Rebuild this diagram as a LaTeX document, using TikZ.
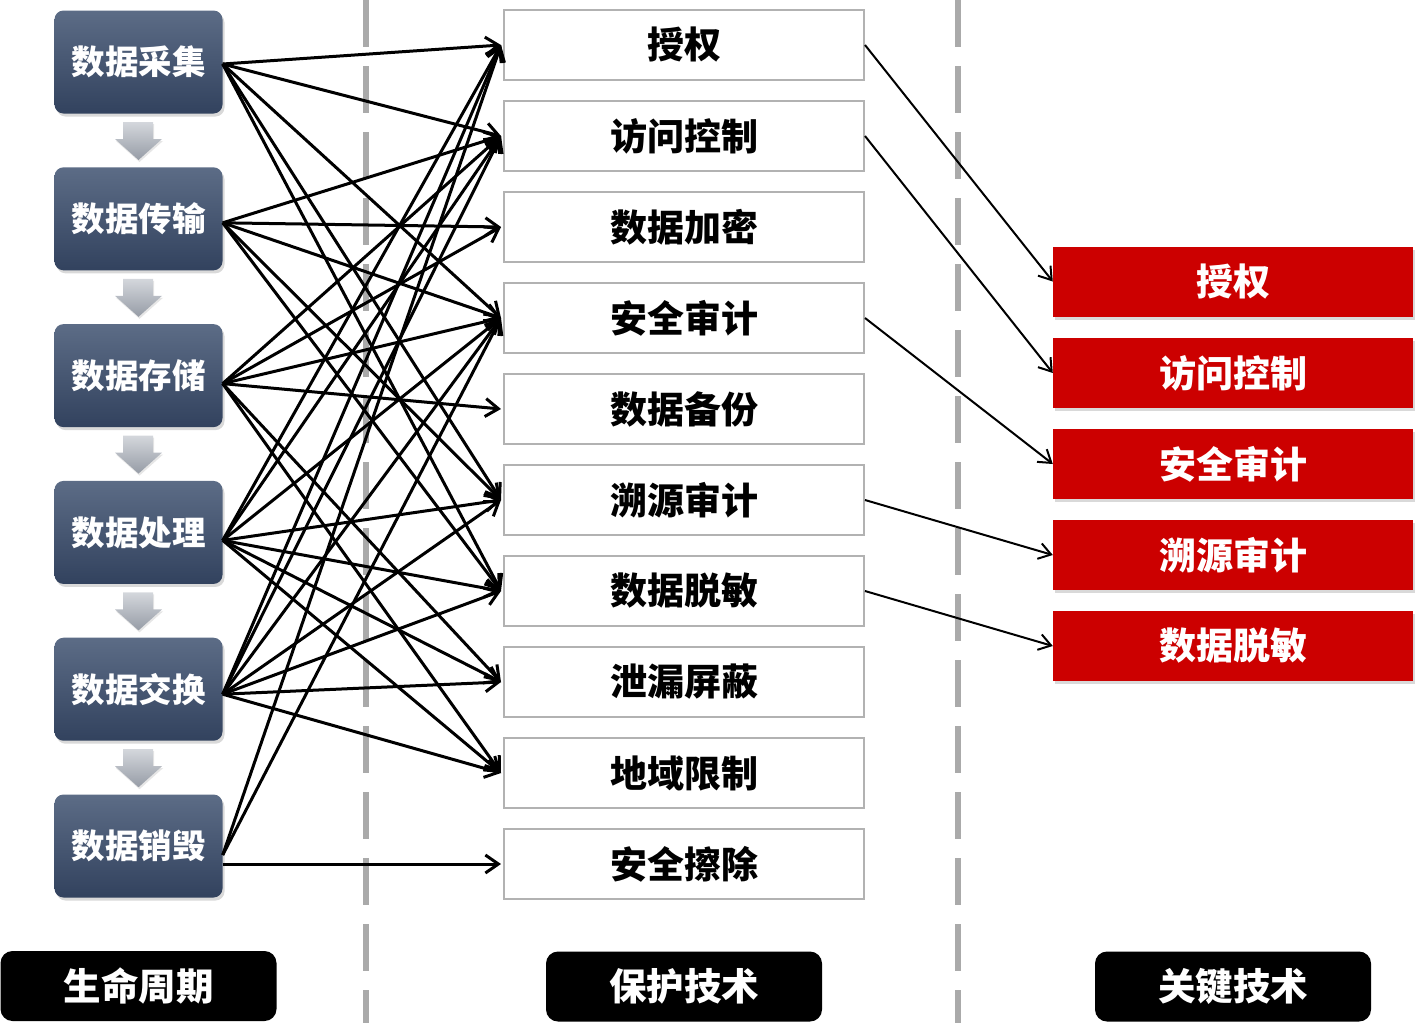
\documentclass[tikz,border=0pt]{standalone}
\usepackage{fontspec}
\setmainfont{Noto Sans CJK SC}
\usetikzlibrary{arrows.meta,shadows}
\definecolor{lifetop}{RGB}{92,108,134}
\definecolor{lifebot}{RGB}{50,66,94}
\definecolor{boxgray}{RGB}{178,178,178}
\definecolor{keyred}{RGB}{204,0,0}
\definecolor{divgray}{RGB}{170,170,170}
\definecolor{arrtop}{RGB}{212,215,220}
\definecolor{arrbot}{RGB}{150,156,166}
\begin{document}
\begin{tikzpicture}[x=1pt,y=-1pt,
  lifebox/.style={rounded corners=9pt, minimum width=168pt, minimum height=103pt,
    top color=lifetop, bottom color=lifebot, draw=none, text=white,
    font=\fontsize{33.5}{38}\selectfont\bfseries,
    drop shadow={shadow xshift=2pt, shadow yshift=-3pt, opacity=0.3}},
  techbox/.style={draw=boxgray, line width=2pt, fill=white, minimum width=360pt,
    minimum height=70pt, font=\fontsize{37}{42}\selectfont\bfseries},
  keybox/.style={fill=keyred, minimum width=360pt, minimum height=70pt, text=white,
    font=\fontsize{37}{42}\selectfont\bfseries,
    drop shadow={shadow xshift=2pt, shadow yshift=-3pt, opacity=0.3}},
  tagbox/.style={fill=black, rounded corners=12pt, minimum width=276pt,
    minimum height=70pt, text=white, font=\fontsize{37.5}{42}\selectfont\bfseries},
  link/.style={line width=3pt, -{Straight Barb[length=13pt,width=18pt]}},
  keylink/.style={line width=2pt, -{Straight Barb[length=12pt,width=16pt]}},
  divider/.style={line width=6pt, draw=divgray, dash pattern=on 47pt off 19pt},
]
\useasboundingbox (0,0) rectangle (1422,1023);

% column dividers
\draw[divider] (366,0) -- (366,1023);
\draw[divider] (958,0) -- (958,1023);

% lifecycle stages
\node[lifebox] (L1) at (138.5,62)    {数据采集};
\node[lifebox] (L2) at (138.5,218.8) {数据传输};
\node[lifebox] (L3) at (138.5,375.6) {数据存储};
\node[lifebox] (L4) at (138.5,532.4) {数据处理};
\node[lifebox] (L5) at (138.5,689.2) {数据交换};
\node[lifebox] (L6) at (138.5,846)   {数据销毁};

% block arrows between stages
\foreach \c in {62,218.8,375.6,532.4,689.2}{
  \shade[top color=arrtop, bottom color=arrbot,
         drop shadow={shadow xshift=1pt, shadow yshift=-2pt, opacity=0.2}]
    (123,\c+60) -- (153,\c+60) -- (153,\c+77) -- (162,\c+77)
    -- (138.5,\c+98) -- (115,\c+77) -- (123,\c+77) -- cycle;
}

% protection techniques
\node[techbox] (P1)  at (684,45)  {授权};
\node[techbox] (P2)  at (684,136) {访问控制};
\node[techbox] (P3)  at (684,227) {数据加密};
\node[techbox] (P4)  at (684,318) {安全审计};
\node[techbox] (P5)  at (684,409) {数据备份};
\node[techbox] (P6)  at (684,500) {溯源审计};
\node[techbox] (P7)  at (684,591) {数据脱敏};
\node[techbox] (P8)  at (684,682) {泄漏屏蔽};
\node[techbox] (P9)  at (684,773) {地域限制};
\node[techbox] (P10) at (684,864) {安全擦除};

% key techniques
\node[keybox] (K1) at (1233,281.5) {授权};
\node[keybox] (K2) at (1233,373)   {访问控制};
\node[keybox] (K3) at (1233,464)   {安全审计};
\node[keybox] (K4) at (1233,555)   {溯源审计};
\node[keybox] (K5) at (1233,646)   {数据脱敏};

% column captions
\node[tagbox] (T1) at (138.5,986) {生命周期};
\node[tagbox] (T2) at (684,986.5) {保护技术};
\node[tagbox] (T3) at (1233,986.5) {关键技术};

% link start points on the right side of each stage
\coordinate (S1) at ([yshift=-2pt]L1.east);
\coordinate (S2) at ([yshift=-4pt]L2.east);
\coordinate (S3) at ([yshift=-8pt]L3.east);
\coordinate (S4) at ([yshift=-8pt]L4.east);
\coordinate (S5) at ([yshift=-5pt]L5.east);
\coordinate (S6) at ([yshift=-9pt]L6.east);
\coordinate (S7) at ([yshift=-18pt]L6.east);

% stage -> technique links
\foreach \s/\t in {S1/P1,S1/P2,S1/P4,S1/P6,S1/P7,
                   S2/P2,S2/P3,S2/P4,S2/P6,S2/P7,
                   S3/P2,S3/P3,S3/P4,S3/P5,S3/P8,S3/P9,
                   S4/P1,S4/P2,S4/P4,S4/P6,S4/P7,S4/P8,S4/P9,
                   S5/P1,S5/P2,S5/P4,S5/P6,S5/P7,S5/P8,S5/P9,
                   S6/P1,S6/P4}
  \draw[link] (\s) -- ([xshift=-2pt]\t.west);
\draw[link] (S7) -- ([xshift=-2pt]P10.west);

% technique -> key technique links
\foreach \s/\t in {P1/K1,P2/K2,P4/K3,P6/K4,P7/K5}
  \draw[keylink] (\s.east) -- (\t.west);
\end{tikzpicture}
\end{document}
